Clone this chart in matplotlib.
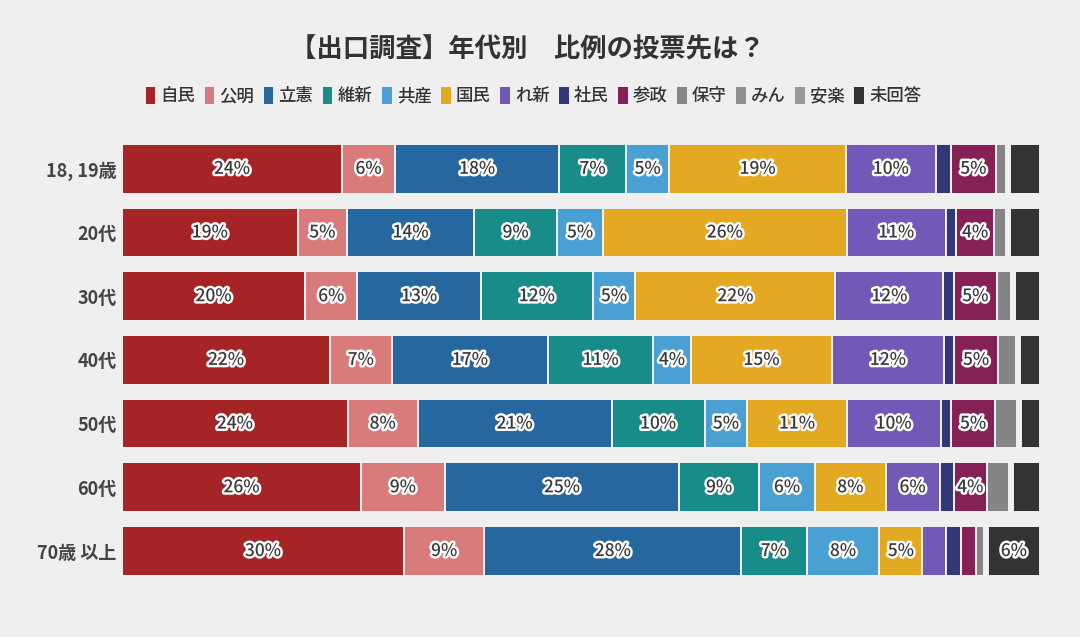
import matplotlib.pyplot as plt
import matplotlib.patheffects as pe
from matplotlib.patches import Patch
import numpy as np

plt.rcParams['font.family'] = ['Noto Sans CJK JP', 'DejaVu Sans']

# age groups (top to bottom)
ages = ['18, 19歳', '20代', '30代', '40代', '50代', '60代', '70歳 以上']

parties = ['自民', '公明', '立憲', '維新', '共産', '国民', 'れ新', '社民', '参政',
           '保守', 'みん', '安楽', '未回答']
colors = ['#a72426', '#d97b7b', '#25679e', '#178c88', '#4a9fd3', '#e3a923',
          '#7159b7', '#333878', '#862155', '#858585', '#8f8f8f', '#9a9a9a', '#333333']

# share (%) per party, one list per party, in the order of ages
jimin   = [23.6, 18.8, 19.7, 22.3, 24.3, 25.7, 30.2]
komei   = [5.7, 5.3, 5.6, 6.6, 7.5, 9.0, 8.6]
rikken  = [17.6, 13.6, 13.3, 16.8, 20.9, 25.2, 27.5]
ishin   = [7.2, 8.9, 12.0, 11.2, 10.0, 8.6, 7.0]
kyosan  = [4.6, 4.9, 4.6, 4.1, 4.6, 6.0, 7.8]
kokumin = [19.0, 26.1, 21.5, 15.1, 10.7, 7.6, 4.6]
reiwa   = [9.6, 10.6, 11.6, 12.0, 10.1, 5.8, 2.5]
shamin  = [1.6, 1.1, 1.1, 1.1, 1.1, 1.5, 1.6]
sansei  = [4.9, 4.1, 4.7, 4.7, 4.8, 3.6, 1.6]
hoshu   = [1.1, 1.3, 1.5, 1.9, 2.3, 2.4, 0.9]
minna   = [0.2, 0.2, 0.2, 0.2, 0.2, 0.2, 0.2]
anraku  = [0.2, 0.2, 0.2, 0.2, 0.2, 0.2, 0.2]
mikaito = [3.2, 3.2, 2.7, 2.2, 2.1, 2.9, 5.6]

series = [jimin, komei, rikken, ishin, kyosan, kokumin, reiwa, shamin, sansei,
          hoshu, minna, anraku, mikaito]

data = np.array(series)            # parties x ages
totals = data.sum(axis=0)
shares = data / totals * 100       # each row spans the full width

bg = '#efefef'
fig = plt.figure(figsize=(10.8, 6.37), dpi=100, facecolor=bg)
ax = fig.add_axes([0.113, 0.085, 0.850, 0.700], facecolor=bg)

y = np.arange(len(ages))
left = np.zeros(len(ages))
for i, party in enumerate(parties):
    ax.barh(y, shares[i], left=left, height=0.78, color=colors[i],
            edgecolor='#f2f2f2', linewidth=1.4)
    for j in range(len(ages)):
        if round(data[i, j]) >= 4:
            ax.text(left[j] + shares[i, j] / 2, y[j], f'{round(data[i, j])}%',
                    ha='center', va='center', fontsize=12.5, color='#3a3a3a',
                    fontweight='medium',
                    path_effects=[pe.withStroke(linewidth=3.5, foreground='white')])
    left += shares[i]

ax.set_xlim(0, 100)
ax.set_ylim(len(ages) - 0.5, -0.5)
ax.set_yticks(y)
ax.set_yticklabels(ages, fontsize=13, color='#444444', fontweight='bold')
ax.tick_params(axis='y', length=0, pad=4)
ax.set_xticks([])
for s in ax.spines.values():
    s.set_visible(False)

fig.text(0.488, 0.921, '【出口調査】年代別　比例の投票先は？', ha='center', va='center',
         fontsize=19, fontweight='bold', color='#333333')

handles = [Patch(facecolor=c, edgecolor='none') for c in colors]
fig.legend(handles, parties, loc='center', bbox_to_anchor=(0.494, 0.849), ncol=13,
           frameon=False, prop={'size': 12.5, 'weight': 'medium'},
           handlelength=0.55, handleheight=1.1,
           handletextpad=0.3, columnspacing=0.55, labelcolor='#333333')

fig.savefig('out.png', dpi=100, facecolor=bg)
